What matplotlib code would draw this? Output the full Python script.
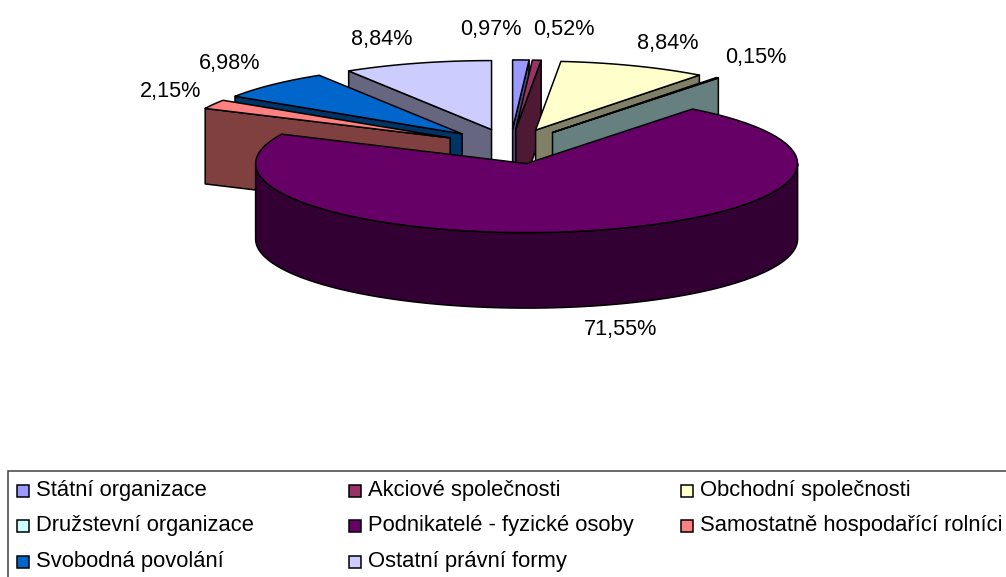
import numpy as np
import matplotlib
matplotlib.use("Agg")
import matplotlib.pyplot as plt
from matplotlib.patches import Polygon, Rectangle

categories = ["Státní organizace", "Akciové společnosti", "Obchodní společnosti",
              "Družstevní organizace", "Podnikatelé - fyzické osoby",
              "Samostatně hospodařící rolníci", "Svobodná povolání", "Ostatní právní formy"]
values = [0.97, 0.52, 8.84, 0.15, 71.55, 2.15, 6.98, 8.84]
colors = ["#9999FF", "#993366", "#FFFFCC", "#CCFFFF", "#660066", "#FF8080", "#0066CC", "#CCCCFF"]
side_colors = ["#4C4C80", "#4D1933", "#808066", "#668080", "#330033", "#804040", "#003366", "#666680"]

# pie geometry in pixels
CX, CY = 510.5, 146.5
RX, RY = 271, 69
DEPTH = 75.5
EXPLODE = 0.255

# back to front
draw_order = [7, 6, 5, 0, 1, 2, 3, 4]
label_pos = [(491, 29), (564, 29), (668, 44), (756, 57), (621, 329), (171, 91), (230, 64), (382, 40)]

plt.rcParams['font.family'] = ['Liberation Sans', 'DejaVu Sans']

fig = plt.figure(figsize=(10.06, 5.77), dpi=100)
ax = fig.add_axes([0, 0, 1, 1])
ax.set_xlim(0, 1006)
ax.set_ylim(577, 0)
ax.axis('off')


def arc(ox, oy, t0, t1):
    t = np.radians(np.linspace(t0, t1, 80))
    return np.column_stack([ox + RX * np.sin(t), oy - RY * np.cos(t)])


def draw_slice(i, t0, t1):
    mid = np.radians((t0 + t1) / 2)
    ox = CX + EXPLODE * RX * np.sin(mid)
    oy = CY - EXPLODE * RY * np.cos(mid)
    apex = np.array([[ox, oy]])
    down = np.array([0, DEPTH])
    style = dict(edgecolor='black', linewidth=1.1, joinstyle='round')

    # radial cut face that looks at the viewer
    edge = None
    if t1 <= 90:
        edge = t1
    elif t0 >= 270:
        edge = t0
    if edge is not None:
        p = arc(ox, oy, edge, edge)[:1]
        ax.add_patch(Polygon(np.vstack([apex, p, p + down, apex + down]),
                             facecolor=side_colors[i], **style))

    # outer wall, front half only
    a, b = max(t0, 90), min(t1, 270)
    if a < b:
        wall = arc(ox, oy, a, b)
        ax.add_patch(Polygon(np.vstack([wall, wall[::-1] + down]),
                             facecolor=side_colors[i], **style))

    ax.add_patch(Polygon(np.vstack([apex, arc(ox, oy, t0, t1)]),
                         facecolor=colors[i], **style))


bounds = np.concatenate([[0], np.cumsum(values)]) / np.sum(values) * 360
for i in draw_order:
    draw_slice(i, bounds[i], bounds[i + 1])

for v, (x, y) in zip(values, label_pos):
    ax.text(x, y, f"{v:.2f}".replace('.', ',') + "%", fontsize=15.6, ha='center', va='center', color='black')

# legend box runs off the right and bottom of the picture
ax.add_patch(Rectangle((8, 471), 1010, 120, facecolor='white', edgecolor='#404040', linewidth=1.1))
col_x = [17, 349, 681]
row_y = [490.5, 526, 562]
for i, name in enumerate(categories):
    x = col_x[i % 3]
    y = row_y[i // 3]
    ax.add_patch(Rectangle((x, y - 6), 12, 12, facecolor=colors[i], edgecolor='black', linewidth=1.1))
    ax.text(x + 19, y, name, fontsize=15.8, ha='left', va='center', color='black')

fig.savefig("out.png", dpi=100)
